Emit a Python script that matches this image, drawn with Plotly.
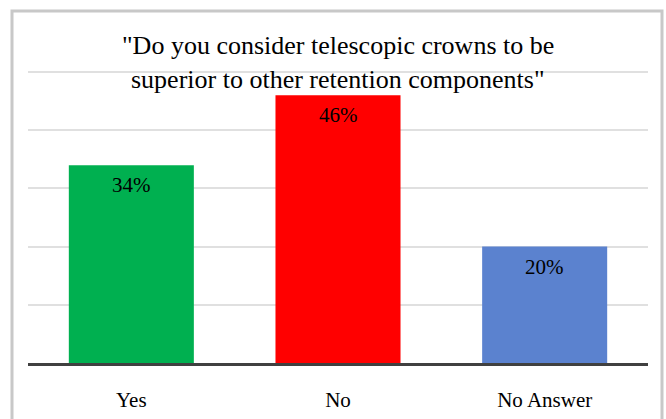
import plotly.graph_objects as go

# Survey responses (percent of respondents)
categories = ["Yes", "No", "No Answer"]
percentages = [34, 46, 20]
bar_colors = ["#00b050", "#ff0000", "#5b82cf"]

title_lines = [
    '"Do you consider telescopic crowns to be',
    'superior to other retention components"',
]

SERIF = "Liberation Serif"

W, H = 666, 419
M_L, M_R, M_T, M_B = 28, 18, 70, 56
plot_w = W - M_L - M_R
plot_h = H - M_T - M_B


def px_x(px):
    return (px - M_L) / plot_w


def px_y(py):
    return (H - M_B - py) / plot_h


fig = go.Figure(
    go.Bar(
        x=categories,
        y=percentages,
        marker=dict(color=bar_colors, line=dict(width=0)),
        hoverinfo="skip",
    )
)

# Value labels just inside the top of each bar
for cat, val in zip(categories, percentages):
    fig.add_annotation(
        x=cat, y=val, xref="x", yref="y",
        text=f"{val}%", showarrow=False,
        yanchor="top", yshift=-6,
        font=dict(family=SERIF, size=21, color="#000000"),
    )

# Two-line chart title
for i, line in enumerate(title_lines):
    fig.add_annotation(
        x=0.5, y=px_y(45 + 35 * i), xref="paper", yref="paper",
        text=line, showarrow=False, yanchor="middle",
        font=dict(family=SERIF, size=26, color="#000000"),
    )

# Outer chart frame (open at the bottom edge)
fig.add_shape(
    type="rect", xref="paper", yref="paper",
    x0=px_x(12), x1=px_x(662), y0=px_y(430), y1=px_y(11),
    line=dict(color="#c8c8c8", width=3), fillcolor="rgba(0,0,0,0)",
    layer="below",
)

fig.update_layout(
    width=W, height=H,
    margin=dict(l=M_L, r=M_R, t=M_T, b=M_B, autoexpand=False),
    paper_bgcolor="#ffffff", plot_bgcolor="#ffffff",
    bargap=0.395,
    showlegend=False,
    font=dict(family=SERIF, size=21, color="#000000"),
)
fig.update_xaxes(
    showline=True, linecolor="#404040", linewidth=3,
    ticks="outside", ticklen=16, tickcolor="rgba(0,0,0,0)",
    tickfont=dict(family=SERIF, size=21, color="#000000"),
    showgrid=False, fixedrange=True,
)
fig.update_yaxes(
    range=[0, 50.35], dtick=10, showticklabels=False,
    showgrid=True, gridcolor="#e0e0e0", gridwidth=1.5,
    zeroline=False, showline=False, fixedrange=True,
)

fig.write_html("out.html")
